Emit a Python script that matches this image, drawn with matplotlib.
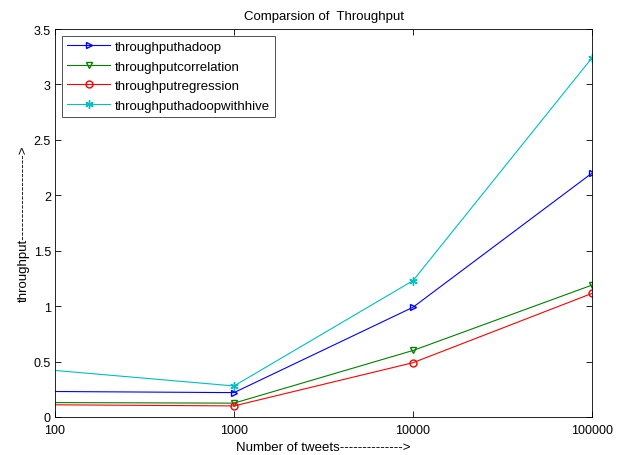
import matplotlib
matplotlib.use("Agg")
import matplotlib.pyplot as plt
from matplotlib.ticker import FixedLocator, FixedFormatter, NullLocator

tweets = [100, 1000, 10000, 100000]
hadoop = [0.23, 0.22, 0.99, 2.20]
correlation = [0.13, 0.125, 0.60, 1.19]
regression = [0.11, 0.10, 0.49, 1.115]
hive = [0.42, 0.28, 1.23, 3.24]

names = ["throughputhadoop", "throughputcorrelation", "throughputregression", "throughputhadoopwithhive"]
xticks = [100, 1000, 10000, 100000]
xticklabels = ["100", "1000", "10000", "100000"]
yticks = [0, 0.5, 1, 1.5, 2, 2.5, 3, 3.5]
yticklabels = ["0", "0.5", "1", "1.5", "2", "2.5", "3", "3.5"]

plt.rcParams['font.family'] = ['Liberation Sans', 'DejaVu Sans']
fig = plt.figure(figsize=(6.28, 4.56), dpi=100)
ax = fig.add_axes([55/628, 38/456, (592-55)/628, (418-30)/456])

series = [(hadoop, 'b', '>', 5), (correlation, (0, 0.5, 0), 'v', 5),
          (regression, 'r', 'o', 5), (hive, (0, 0.75, 0.75), (6, 2, 0), 6)]
for (vals, c, m, ms), n in zip(series, names):
    ax.plot(tweets, vals, color=c, marker=m, markerfacecolor='none',
            markeredgecolor=c, markersize=ms, linewidth=0.8, label=n,
            markevery=[1, 2, 3])

ax.set_xscale('log')
ax.set_xlim(100, 100000)
ax.set_ylim(0, 3.5)
ax.xaxis.set_major_locator(FixedLocator(xticks))
ax.xaxis.set_major_formatter(FixedFormatter(xticklabels))
ax.xaxis.set_minor_locator(NullLocator())
ax.set_yticks(yticks)
ax.set_yticklabels(yticklabels)
ax.tick_params(direction='in', top=True, right=True, labelsize=9, length=4, width=0.6)
ax.tick_params(axis='x', pad=5)
ax.tick_params(axis='y', pad=3)
for s in ax.spines.values():
    s.set_linewidth(0.6)

ax.set_title("Comparsion of  Throughput", fontsize=9.5, pad=7)
ax.set_xlabel("Number of tweets-------------->", fontsize=9.5, labelpad=3.5)
ax.set_ylabel("throughput------------------->", fontsize=9.5, labelpad=3)

leg = ax.legend(loc='upper left', fontsize=9.5, frameon=True, fancybox=False,
                edgecolor='black', borderpad=0.4, labelspacing=0.55,
                handlelength=3.3, handletextpad=0.35, borderaxespad=0.5)
leg.get_frame().set_linewidth(0.6)

fig.savefig("out.png", dpi=100)
